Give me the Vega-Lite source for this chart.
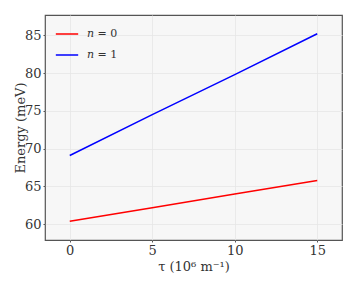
{
  "$schema": "https://vega.github.io/schema/vega-lite/v6.json",
  "width": 297,
  "height": 225,
  "autosize": {"type": "none"},
  "padding": {"left": 45, "top": 15, "right": 15, "bottom": 46},
  "background": "white",
  "config": {
    "view": {"fill": "#f7f7f7", "stroke": "#555555", "strokeWidth": 1.2},
    "font": "DejaVu Serif"
  },
  "data": {
    "values": [
      {"tau": 0, "energy": 60.4, "series": "𝑛 = 0"},
      {"tau": 5, "energy": 62.2, "series": "𝑛 = 0"},
      {"tau": 10, "energy": 64.0, "series": "𝑛 = 0"},
      {"tau": 15, "energy": 65.8, "series": "𝑛 = 0"},
      {"tau": 0, "energy": 69.1, "series": "𝑛 = 1"},
      {"tau": 5, "energy": 74.5, "series": "𝑛 = 1"},
      {"tau": 10, "energy": 79.8, "series": "𝑛 = 1"},
      {"tau": 15, "energy": 85.2, "series": "𝑛 = 1"}
    ]
  },
  "mark": {"type": "line", "strokeWidth": 1.5},
  "encoding": {
    "x": {
      "field": "tau", "type": "quantitative",
      "scale": {"domain": [-1.5, 16.5], "nice": false, "zero": false},
      "axis": {
        "values": [0, 5, 10, 15],
        "title": "τ (10⁶ m⁻¹)",
        "titleFont": "DejaVu Serif", "titleFontSize": 13, "titleFontWeight": "normal", "titleColor": "#333333",
        "titlePadding": 3,
        "labelFont": "DejaVu Serif", "labelFontSize": 13, "labelColor": "#333333", "labelPadding": 2,
        "tickSize": 2, "tickColor": "#555555", "domain": false,
        "grid": true, "gridColor": "#e6e6e6", "gridWidth": 0.8
      }
    },
    "y": {
      "field": "energy", "type": "quantitative",
      "scale": {"domain": [57.92, 87.68], "nice": false, "zero": false},
      "axis": {
        "values": [60, 65, 70, 75, 80, 85],
        "title": "Energy (meV)",
        "titleFont": "DejaVu Serif", "titleFontSize": 13, "titleFontWeight": "normal", "titleColor": "#333333",
        "titlePadding": -3,
        "labelFont": "DejaVu Serif", "labelFontSize": 13, "labelColor": "#333333", "labelPadding": 2,
        "tickSize": 2, "tickColor": "#555555", "domain": false,
        "grid": true, "gridColor": "#e6e6e6", "gridWidth": 0.8
      }
    },
    "color": {
      "field": "series", "type": "nominal",
      "scale": {"domain": ["𝑛 = 0", "𝑛 = 1"], "range": ["#ff0000", "#0000ff"]},
      "legend": {
        "orient": "none", "legendX": 10, "legendY": 7,
        "title": null,
        "symbolType": "stroke", "symbolSize": 500, "symbolStrokeWidth": 1.5,
        "labelFont": "DejaVu Serif", "labelFontSize": 11, "labelColor": "#333333",
        "rowPadding": 4, "labelOffset": 8
      }
    }
  }
}
